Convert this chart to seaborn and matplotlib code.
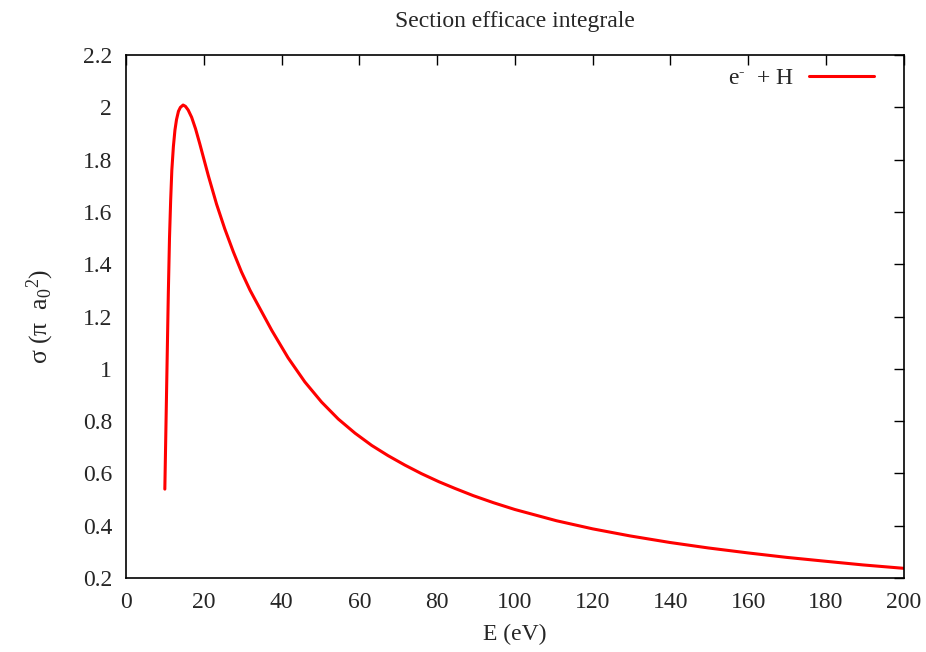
import matplotlib
matplotlib.use("Agg")
import matplotlib.pyplot as plt
import seaborn as sns
import pandas as pd

# Energy (eV) and integral cross section (pi a0^2)
energy = [10.0, 10.3, 10.6, 10.9, 11.2, 11.5, 11.8, 12.2, 12.6, 13.0, 13.5, 14.0,
          14.7, 15.3, 16.0, 16.9, 17.9, 19.0, 21.2, 23.3, 25.4, 27.6, 29.7, 31.9,
          33.2, 37.5, 41.7, 46.0, 50.3, 54.6, 58.9, 63.2, 67.4, 71.7, 76.0, 80.5,
          84.6, 89.3, 94.5, 100.0, 110.7, 120.0, 129.6, 139.8, 149.7, 159.9, 169.8,
          179.9, 189.5, 200.0]
sigma = [0.54, 0.79, 1.04, 1.29, 1.50, 1.645, 1.76, 1.85, 1.913, 1.953, 1.985, 2.0,
         2.009, 2.004, 1.99, 1.962, 1.918, 1.860, 1.738, 1.630, 1.536, 1.448, 1.371, 1.301,
         1.265, 1.147, 1.042, 0.950, 0.873, 0.808, 0.754, 0.707, 0.668, 0.632, 0.599, 0.568,
         0.5426, 0.515, 0.488, 0.462, 0.419, 0.388, 0.361, 0.336, 0.315, 0.296, 0.279,
         0.264, 0.250, 0.237]

x_ticks = [0, 20, 40, 60, 80, 100, 120, 140, 160, 180, 200]
y_ticks = [0.2, 0.4, 0.6, 0.8, 1.0, 1.2, 1.4, 1.6, 1.8, 2.0, 2.2]
y_labels = ["0.2", "0.4", "0.6", "0.8", "1", "1.2", "1.4", "1.6", "1.8", "2", "2.2"]

df = pd.DataFrame({"E": energy, "sigma": sigma})

sns.set_style("white")
plt.rcParams["font.family"] = ["Liberation Serif", "DejaVu Serif"]
plt.rcParams["mathtext.fontset"] = "custom"
plt.rcParams["mathtext.rm"] = "Liberation Serif"
plt.rcParams["mathtext.it"] = "Liberation Serif"

FS = 17

fig = plt.figure(figsize=(9.26, 6.52), dpi=100)
ax = fig.add_axes([0.136, 0.1135, 0.840, 0.802])

sns.lineplot(data=df, x="E", y="sigma", ax=ax, color="#ff0000", linewidth=2.2,
             label=r"e$^{\text{-}}$  + H", sort=False)

ax.set_xlim(0, 200)
ax.set_ylim(0.2, 2.2)
ax.set_xticks(x_ticks)
ax.set_xticklabels([str(t) for t in x_ticks])
ax.set_yticks(y_ticks)
ax.set_yticklabels(y_labels)
ax.tick_params(direction="in", length=7, width=1, top=True, right=True,
               labelsize=FS, color="black", pad=10)
for s in ax.spines.values():
    s.set_color("black")
    s.set_linewidth(1.2)

ax.set_xlabel("E (eV)", fontsize=FS, labelpad=8)
ax.set_ylabel(r"σ (π  a$_0$$^2$)", fontsize=18.5, labelpad=19)
ax.set_title("Section efficace integrale", fontsize=FS, pad=20)

leg = ax.legend(loc="upper right", frameon=False, fontsize=FS, markerfirst=False,
                handlelength=2.75, handletextpad=0.6, borderaxespad=0.5,
                bbox_to_anchor=(1 - 9 / 778, 1 + 9 / 523))

fig.savefig("out.png", dpi=100)
